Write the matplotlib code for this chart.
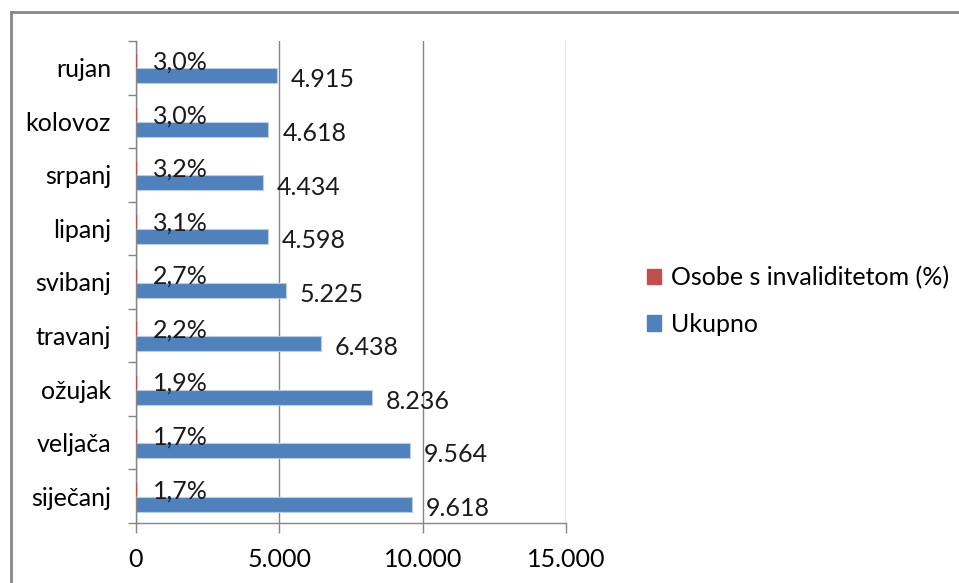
import matplotlib
matplotlib.use("Agg")
from matplotlib import pyplot as plt
from matplotlib.patches import Rectangle
from matplotlib.lines import Line2D

mjeseci = ['siječanj', 'veljača', 'ožujak', 'travanj', 'svibanj',
           'lipanj', 'srpanj', 'kolovoz', 'rujan']
ukupno = [9618, 9564, 8236, 6438, 5225, 4598, 4434, 4618, 4915]
invalidi_pct = [1.7, 1.7, 1.9, 2.2, 2.7, 3.1, 3.2, 3.0, 3.0]
x_ticks = [0, 5000, 10000, 15000]

PLAVA = '#4F81BD'
CRVENA = '#C0504D'
SIVA = '#868686'
FS = 18

plt.rcParams['font.family'] = ['Lato', 'DejaVu Sans']
plt.rcParams['font.size'] = FS

fig = plt.figure(figsize=(9.59, 5.83), dpi=100)
ax = fig.add_axes([0.1418, 0.1029, 0.4484, 0.8268])

y = list(range(len(mjeseci)))
h = 0.28
y_blue = [v - 0.15 for v in y]
y_red = [v + 0.13 for v in y]

ax.barh(y_blue, ukupno, height=h, color=PLAVA, edgecolor='#B9CDE5', linewidth=0.8, zorder=3)
ax.barh(y_red, invalidi_pct, height=h * 0.85, color=CRVENA, edgecolor=CRVENA, linewidth=1.6, zorder=5)

# oznake vrijednosti
for yb, v in zip(y_blue, ukupno):
    ax.annotate(f"{v:,}".replace(',', '.'), xy=(v, yb), xytext=(10, -3),
                textcoords='offset points', va='center', ha='left', fontsize=FS, color='#1a1a1a')
for yr, v in zip(y_red, invalidi_pct):
    ax.annotate(f"{v:.1f}%".replace('.', ','), xy=(v, yr), xytext=(12, -1),
                textcoords='offset points', va='center', ha='left', fontsize=FS, color='#1a1a1a')

ax.set_xlim(0, 15000)
ax.set_ylim(-0.5, len(mjeseci) - 0.5)
ax.set_xticks(x_ticks)
ax.set_xticklabels([f"{t:,}".replace(',', '.') for t in x_ticks])
ax.set_yticks(y)
ax.set_yticklabels(mjeseci)
ax.set_yticks([v - 0.5 for v in range(len(mjeseci) + 1)], minor=True)
ax.tick_params(axis='y', which='major', length=0, pad=18)
ax.tick_params(axis='y', which='minor', length=6, color=SIVA, width=1)
ax.tick_params(axis='x', which='major', length=7, color=SIVA, width=1, pad=11)
ax.xaxis.grid(True, color=SIVA, linewidth=1, zorder=0)
for s in ['top', 'right']:
    ax.spines[s].set_visible(False)
for s in ['left', 'bottom']:
    ax.spines[s].set_color(SIVA)
    ax.spines[s].set_linewidth(1)
    ax.spines[s].set_zorder(4)

handles = [Rectangle((0, 0), 1, 1, color=CRVENA), Rectangle((0, 0), 1, 1, color=PLAVA)]
fig.legend(handles, ['Osobe s invaliditetom (%)', 'Ukupno'], loc='center left',
           bbox_to_anchor=(0.651, 0.484), frameon=False, handlelength=0.55,
           handleheight=0.55, handletextpad=0.4, labelspacing=0.95, fontsize=FS)

# okvir grafikona
W, H = 959, 583
fig.add_artist(Line2D([11 / W, 11 / W], [0, 1 - 12 / H], color=SIVA, linewidth=2))
fig.add_artist(Line2D([11 / W, 1], [1 - 12 / H, 1 - 12 / H], color=SIVA, linewidth=2))

fig.savefig('out.png', dpi=100)
